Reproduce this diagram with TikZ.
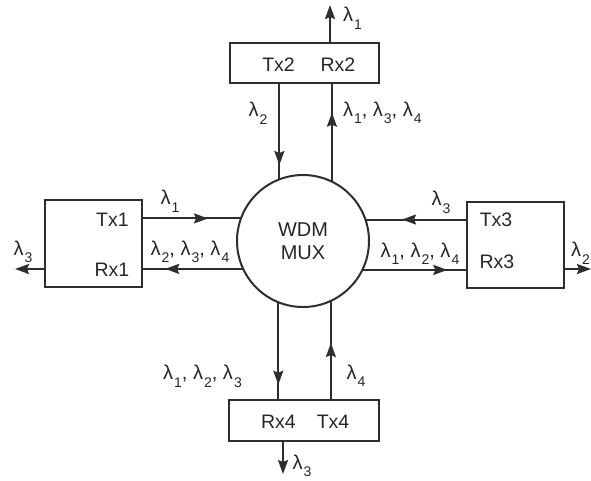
\documentclass[tikz,border=0pt]{standalone}
\usepackage{fontspec}
\setmainfont{Liberation Sans}
\usetikzlibrary{arrows.meta,decorations.markings}
% wavelength with subscript
\newcommand{\wl}[1]{λ\kern1pt\raisebox{-7.5pt}{\fontsize{14}{14}\selectfont #1}}

\begin{document}
\begin{tikzpicture}[x=1pt,y=-1pt,
  line width=2pt,
  ink/.style={draw=black!82},
  fib/.tip={Stealth[length=14pt,width=10pt,inset=2pt]},
  box/.style={ink, inner sep=0pt, outer sep=0pt},
  txt/.style={inner sep=0pt, text=black!85, font=\fontsize{19.5}{21}\selectfont},
  lbl/.style={inner sep=0pt, text=black!85, font=\fontsize{20}{22}\selectfont},
  tipat/.style={postaction={decorate,decoration={markings,
      mark=at position #1 with {\arrow{fib}}}}},
  fibre/.style={ink}]

\useasboundingbox (0,0) rectangle (591,480);

% multiplexer
\node[circle, ink, inner sep=0pt, outer sep=0pt, minimum size=132pt,
      align=center, text=black!85, font=\fontsize{20}{23}\selectfont]
      (mux) at (303,241) {WDM\\MUX};

% terminals
\node[box, minimum width=149pt, minimum height=40pt] (top) at (304.5,63) {};
\node[txt] (t2) at (278.5,65) {Tx2};
\node[txt] (r2) at (338,65) {Rx2};

\node[box, minimum width=97pt, minimum height=87pt] (left) at (93.5,243.5) {};
\node[txt] (t1) at (112.5,220) {Tx1};
\node[txt] (r1) at (112,269.5) {Rx1};

\node[box, minimum width=97pt, minimum height=86pt] (right) at (515.5,245) {};
\node[txt] (t3) at (496,220) {Tx3};
\node[txt] (r3) at (497,262) {Rx3};

\node[box, minimum width=150pt, minimum height=41pt] (bot) at (304,420.5) {};
\node[txt] (r4) at (278.5,421.5) {Rx4};
\node[txt] (t4) at (333,421.5) {Tx4};

% free ends of the drop fibres
\coordinate (o1) at (15,269);
\coordinate (o2) at (330,5);
\coordinate (o3) at (591,269);
\coordinate (o4) at (283,474);

% links between terminals and the multiplexer
\draw[fibre, tipat=82pt]   (top.south -| mux.111.3) -- (mux.111.3);
\draw[fibre, tipat=69pt]   (mux.64.9) -- (top.south -| mux.64.9);
\draw[fibre, tipat=66pt]   (left.east |- mux.160.5) -- (mux.160.5);
\draw[fibre, tipat=78pt]   (mux.205.1) -- (left.east |- mux.205.1);
\draw[fibre, tipat=65pt]   (right.west |- mux.19.5) -- (mux.19.5);
\draw[fibre, tipat=85pt]   (mux.334.9) -- (right.west |- mux.334.9);
\draw[fibre, tipat=82.5pt] (mux.248.7) -- (bot.north -| mux.248.7);
\draw[fibre, tipat=57pt]   (bot.north -| mux.295.1) -- (mux.295.1);

% local drops
\draw[fibre, -{fib}] (top.north -| o2) -- (o2);
\draw[fibre, -{fib}] (left.west |- o1) -- (o1);
\draw[fibre, -{fib}] (right.east |- o3) -- (o3);
\draw[fibre, -{fib}] (bot.south -| o4) -- (o4);

% wavelength labels
\node[lbl, anchor=west] (l2o) at (342,18.5) {\wl{1}};
\node[lbl] (l2a) at (258,113) {\wl{2}};
\node[lbl, anchor=west] (l2b) at (342,113) {\wl{1}, \wl{3}, \wl{4}};

\node[lbl] (l1o) at (23,252) {\wl{3}};
\node[lbl] (l1a) at (170,201) {\wl{1}};
\node[lbl] (l1b) at (190,252) {\wl{2}, \wl{3}, \wl{4}};

\node[lbl] (l3a) at (441,202.5) {\wl{3}};
\node[lbl] (l3b) at (420,253.5) {\wl{1}, \wl{2}, \wl{4}};
\node[lbl, anchor=west] (l3o) at (570,253) {\wl{2}};

\node[lbl] (l4a) at (202.5,376.5) {\wl{1}, \wl{2}, \wl{3}};
\node[lbl] (l4b) at (356,375.5) {\wl{4}};
\node[lbl] (l4o) at (302,466) {\wl{3}};

\end{tikzpicture}
\end{document}
